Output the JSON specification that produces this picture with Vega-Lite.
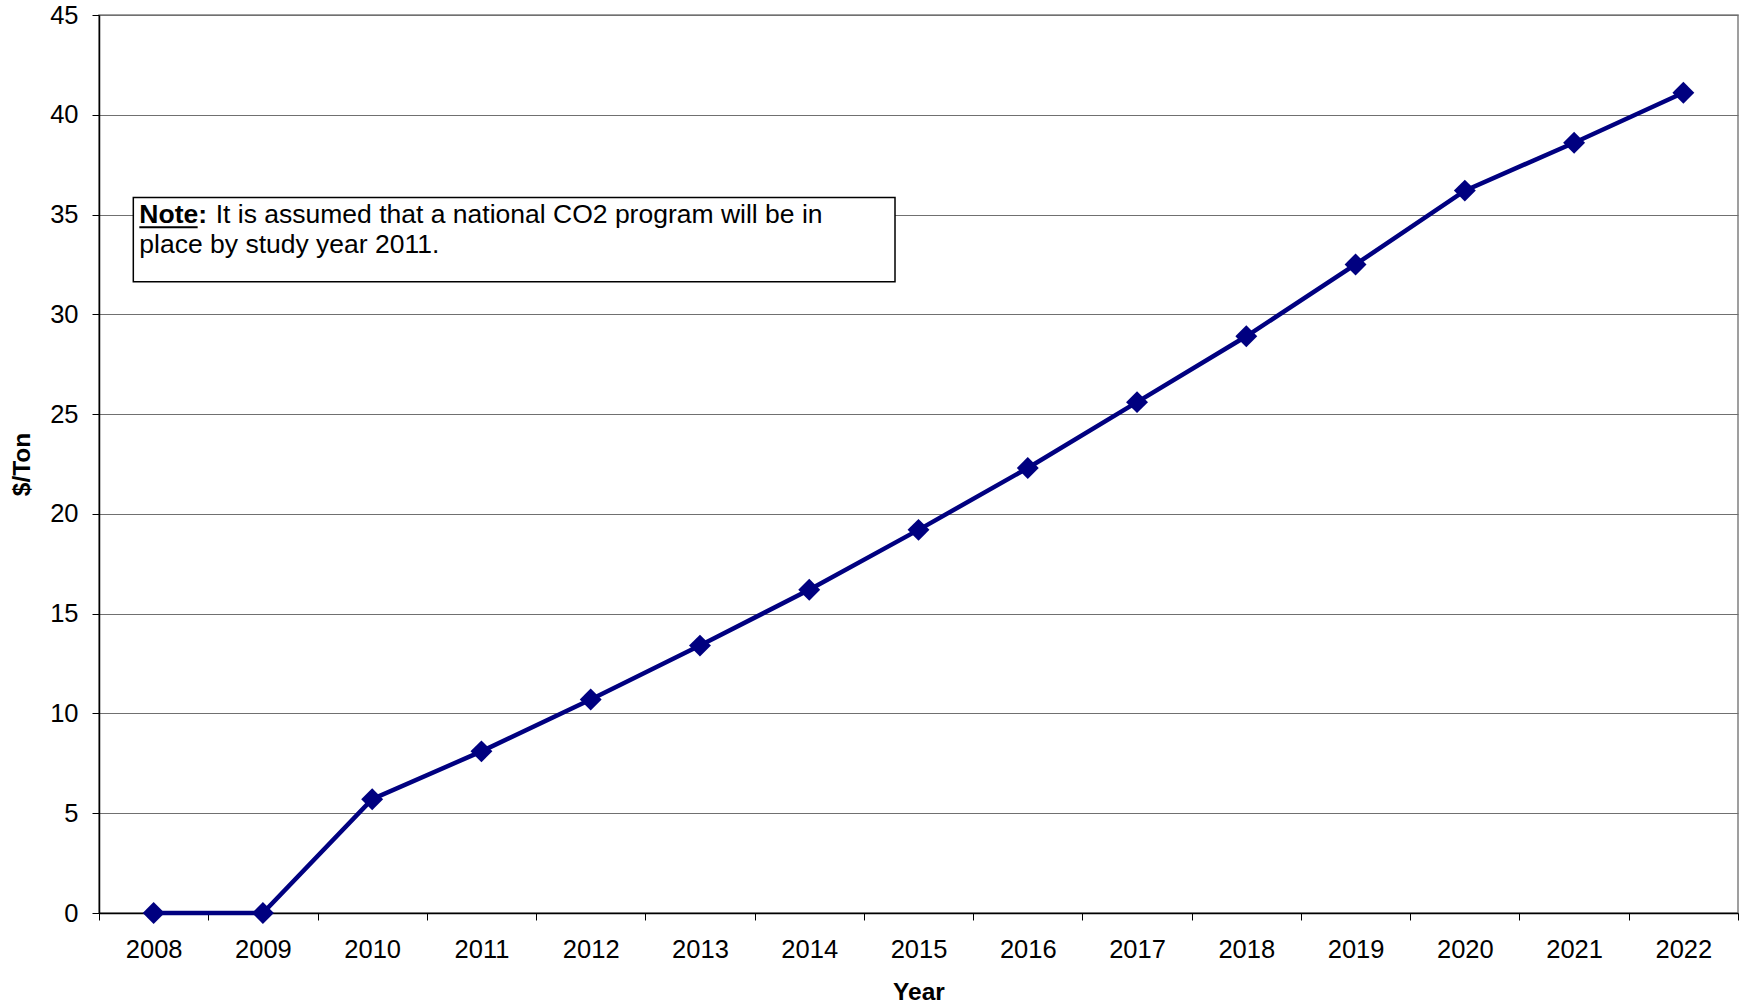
{
  "$schema": "https://vega.github.io/schema/vega-lite/v6.json",
  "width": 1639,
  "height": 898,
  "autosize": "none",
  "padding": {"left": 99, "top": 15, "right": 10, "bottom": 92},
  "background": "white",
  "config": {
    "font": "Liberation Sans",
    "view": {"stroke": "#808080", "strokeWidth": 1.5},
    "axis": {"labelColor": "black", "titleColor": "black", "labelFont": "Liberation Sans", "titleFont": "Liberation Sans"}
  },
  "data": {
    "values": [
      {"Year": 2008, "Cost": 0},
      {"Year": 2009, "Cost": 0},
      {"Year": 2010, "Cost": 5.7},
      {"Year": 2011, "Cost": 8.1},
      {"Year": 2012, "Cost": 10.7},
      {"Year": 2013, "Cost": 13.4},
      {"Year": 2014, "Cost": 16.2},
      {"Year": 2015, "Cost": 19.2},
      {"Year": 2016, "Cost": 22.3},
      {"Year": 2017, "Cost": 25.6},
      {"Year": 2018, "Cost": 28.9},
      {"Year": 2019, "Cost": 32.5},
      {"Year": 2020, "Cost": 36.2},
      {"Year": 2021, "Cost": 38.6},
      {"Year": 2022, "Cost": 41.1}
    ]
  },
  "layer": [
    {
      "mark": {"type": "line", "color": "#000080", "strokeWidth": 4.5},
      "encoding": {
        "x": {
          "field": "Year", "type": "quantitative",
          "scale": {"domain": [2007.5, 2022.5], "nice": false, "zero": false},
          "axis": {
            "orient": "bottom",
            "values": [2007.5, 2008.5, 2009.5, 2010.5, 2011.5, 2012.5, 2013.5, 2014.5, 2015.5, 2016.5, 2017.5, 2018.5, 2019.5, 2020.5, 2021.5, 2022.5],
            "labels": false, "grid": false, "title": null,
            "tickSize": 7, "tickColor": "black", "tickWidth": 1,
            "domainColor": "black", "domainWidth": 1.5
          }
        },
        "y": {
          "field": "Cost", "type": "quantitative",
          "scale": {"domain": [0, 45], "nice": false},
          "axis": {
            "values": [0, 5, 10, 15, 20, 25, 30, 35, 40, 45],
            "title": "$/Ton",
            "titleFontSize": 24.5, "titleFontWeight": "bold",
            "titleAngle": -90, "titleBaseline": "alphabetic",
            "titleX": -70, "titleY": 449, "titleAlign": "center",
            "labelFontSize": 25.5, "labelPadding": 14,
            "tickSize": 7, "tickColor": "black",
            "domainColor": "black", "domainWidth": 1.5,
            "grid": true, "gridColor": "#707070", "gridWidth": 1
          }
        }
      }
    },
    {
      "mark": {"type": "point", "shape": "diamond", "filled": true, "size": 480, "color": "#000080", "opacity": 1},
      "encoding": {
        "x": {
          "field": "Year", "type": "quantitative",
          "axis": {
            "orient": "bottom",
            "values": [2008, 2009, 2010, 2011, 2012, 2013, 2014, 2015, 2016, 2017, 2018, 2019, 2020, 2021, 2022],
            "format": "d",
            "ticks": false, "tickSize": 0, "domain": false, "grid": false,
            "labelFontSize": 25.5, "labelPadding": 24,
            "title": "Year", "titleFontSize": 24.5, "titleFontWeight": "bold",
            "titleBaseline": "alphabetic", "titleY": 86, "titleX": 819.5
          }
        },
        "y": {"field": "Cost", "type": "quantitative"}
      }
    },
    {
      "data": {"values": [{"label": "note"}]},
      "mark": {"type": "rect", "fill": "white", "stroke": "black", "strokeWidth": 1.5},
      "encoding": {
        "x": {"datum": 2007.814, "type": "quantitative", "axis": null},
        "x2": {"datum": 2014.785},
        "y": {"datum": 35.86, "type": "quantitative"},
        "y2": {"datum": 31.63}
      }
    },
    {
      "data": {"values": [{"label": "note"}]},
      "mark": {"type": "text", "align": "left", "baseline": "alphabetic", "fontSize": 26.5, "fontWeight": "bold", "color": "black"},
      "encoding": {
        "x": {"datum": 2007.869, "type": "quantitative", "axis": null},
        "y": {"datum": 34.58, "type": "quantitative"},
        "text": {"value": "Note:"}
      }
    },
    {
      "data": {"values": [{"label": "note"}]},
      "mark": {"type": "rule", "color": "black", "strokeWidth": 2},
      "encoding": {
        "x": {"datum": 2007.869, "type": "quantitative", "axis": null},
        "x2": {"datum": 2008.403},
        "y": {"datum": 34.37, "type": "quantitative"}
      }
    },
    {
      "data": {"values": [{"label": "note"}]},
      "mark": {"type": "text", "align": "left", "baseline": "alphabetic", "fontSize": 26.5, "color": "black"},
      "encoding": {
        "x": {"datum": 2008.568, "type": "quantitative", "axis": null},
        "y": {"datum": 34.58, "type": "quantitative"},
        "text": {"value": "It is assumed that a national CO2 program will be in"}
      }
    },
    {
      "data": {"values": [{"label": "note"}]},
      "mark": {"type": "text", "align": "left", "baseline": "alphabetic", "fontSize": 26.5, "color": "black"},
      "encoding": {
        "x": {"datum": 2007.869, "type": "quantitative", "axis": null},
        "y": {"datum": 33.08, "type": "quantitative"},
        "text": {"value": "place by study year 2011."}
      }
    }
  ],
  "resolve": {"axis": {"x": "independent"}}
}
